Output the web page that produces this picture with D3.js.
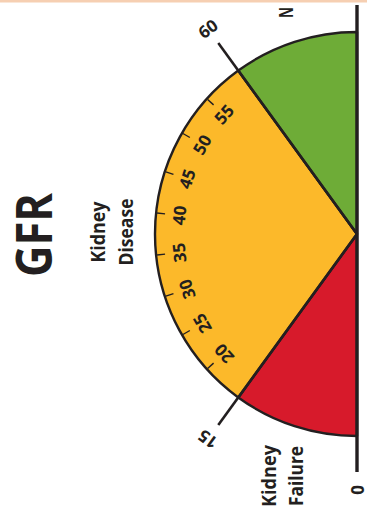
<!DOCTYPE html>
<html>
<head>
<meta charset="utf-8">
<script src="https://cdn.jsdelivr.net/npm/d3@7"></script>
<style>
  html, body { margin: 0; padding: 0; background: #fff; }
  svg { display: block; }
  text { font-family: "Open Sans", "Noto Sans", sans-serif; fill: #231f20; }
</style>
</head>
<body>
<svg id="chart" width="367" height="517"></svg>
<script>
// GFR scale bands
const bandNames  = ["Kidney Failure", "Kidney Disease", "Normal"];
const bandStart  = [0, 15, 60];
const bandEnd    = [15, 60, 75];
const bandColors = ["#d71a2b", "#fcb92a", "#6eac37"];

// scale extent and tick marks
const scaleMin = 0, scaleMax = 75;
const boundaryTicks = [15, 60];
const boundaryLabels = ["15", "60"];
const minorTicks = [20, 25, 30, 35, 40, 45, 50, 55];
const minorLabels = ["20", "25", "30", "35", "40", "45", "50", "55"];
const zeroLabel = "0";
const title = "GFR";

const W = 367, H = 517;
const cx = 357, cy = 234;      // gauge centre on the page
const R = 202;                  // outer radius
const ink = "#231f20";

const svg = d3.select("#chart");
svg.append("rect").attr("width", W).attr("height", H).attr("fill", "#fff");
svg.append("rect").attr("x", 0).attr("y", 0).attr("width", W).attr("height", 2.5)
   .attr("fill", "#f6cfb2");

// value -> angle (d3.arc convention: 0 = up, clockwise); gauge drawn as a top half-disc
const angle = d3.scaleLinear().domain([scaleMin, scaleMax]).range([-Math.PI / 2, Math.PI / 2]);
const deg = v => angle(v) * 180 / Math.PI;
const pt = (v, r) => [r * Math.sin(angle(v)), -r * Math.cos(angle(v))];

// whole gauge turned a quarter turn so that it reads upward
const g = svg.append("g").attr("transform", `translate(${cx},${cy}) rotate(-90)`);

const arc = d3.arc().innerRadius(0).outerRadius(R);
const bands = bandNames.map((n, i) => ({ name: n, s: bandStart[i], e: bandEnd[i], c: bandColors[i] }));

g.selectAll("path.band").data(bands).join("path")
  .attr("class", "band")
  .attr("d", d => arc({ startAngle: angle(d.s), endAngle: angle(d.e) }))
  .attr("fill", d => d.c)
  .attr("stroke", ink).attr("stroke-width", 2.4).attr("stroke-linejoin", "round");

// boundary lines from centre out past the rim
g.selectAll("line.bound").data(boundaryTicks).join("line")
  .attr("class", "bound")
  .attr("x1", 0).attr("y1", 0)
  .attr("x2", d => pt(d, R + 34)[0]).attr("y2", d => pt(d, R + 34)[1])
  .attr("stroke", ink).attr("stroke-width", 2.6);

g.selectAll("text.bound").data(boundaryTicks).join("text")
  .attr("class", "bound")
  .attr("transform", d => `translate(${pt(d, R + 52)}) rotate(${deg(d)})`)
  .attr("text-anchor", "middle").attr("dominant-baseline", "central")
  .attr("font-size", 17).attr("font-weight", 700)
  .text((d, i) => boundaryLabels[i]);

// minor ticks inside the rim
g.selectAll("line.minor").data(minorTicks).join("line")
  .attr("class", "minor")
  .attr("x1", d => pt(d, R - 1)[0]).attr("y1", d => pt(d, R - 1)[1])
  .attr("x2", d => pt(d, R - 9)[0]).attr("y2", d => pt(d, R - 9)[1])
  .attr("stroke", ink).attr("stroke-width", 1.4);

g.selectAll("text.minor").data(minorTicks).join("text")
  .attr("class", "minor")
  .attr("transform", d => `translate(${pt(d, R - 23)}) rotate(${deg(d)})`)
  .attr("text-anchor", "middle").attr("dominant-baseline", "central")
  .attr("font-size", 17).attr("font-weight", 700)
  .text((d, i) => minorLabels[i]);

// base diameter
g.append("line")
  .attr("x1", pt(scaleMin, R + 36)[0]).attr("y1", 0)
  .attr("x2", pt(scaleMax, R + 27)[0]).attr("y2", 0)
  .attr("stroke", ink).attr("stroke-width", 3.4);

g.append("text")
  .attr("x", pt(scaleMin, R + 54)[0]).attr("y", 0)
  .attr("text-anchor", "middle").attr("dominant-baseline", "central")
  .attr("font-size", 17).attr("font-weight", 700)
  .text(zeroLabel);

// titles
g.append("text").attr("x", -1).attr("y", -305)
  .attr("text-anchor", "middle").attr("font-size", 50).attr("font-weight", 700)
  .attr("textLength", 84).attr("lengthAdjust", "spacingAndGlyphs")
  .text(title);

const labelLines = [
  { t: "Kidney",  x: 2,    y: -252, w: 61 },
  { t: "Disease", x: 2,    y: -224, w: 67 },
  { t: "Kidney",  x: -242, y: -81,  w: 62 },
  { t: "Failure", x: -242, y: -54,  w: 60 },
  { t: "N",       x: 216,  y: -64,  w: 11, start: true }
];
g.selectAll("text.lab").data(labelLines).join("text")
  .attr("class", "lab")
  .attr("x", d => d.x).attr("y", d => d.y)
  .attr("text-anchor", d => d.start ? "start" : "middle")
  .attr("font-size", 20).attr("font-weight", 700)
  .attr("textLength", d => d.w).attr("lengthAdjust", "spacingAndGlyphs")
  .text(d => d.t);
</script>
</body>
</html>
